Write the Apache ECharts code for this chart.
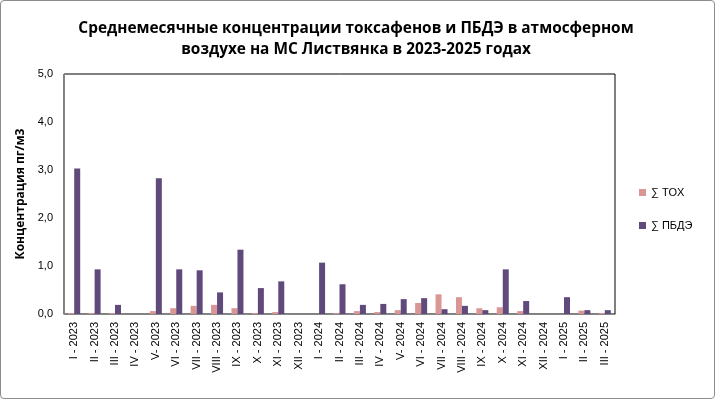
<!DOCTYPE html>
<html>
<head>
<meta charset="utf-8">
<script src="https://cdn.jsdelivr.net/npm/echarts@6/dist/echarts.min.js"></script>
<style>
  html, body { margin: 0; padding: 0; background: #fff; }
  #chart { width: 715px; height: 399px; box-sizing: border-box; border: 1px solid #8c8c8c; border-radius: 4px; }
</style>
</head>
<body>
<div id="chart"></div>
<script>
// категории (месяцы)
const categories = [
  'I - 2023', 'II - 2023', 'III - 2023', 'IV - 2023', 'V- 2023', 'VI - 2023',
  'VII - 2023', 'VIII - 2023', 'IX - 2023', 'X - 2023', 'XI - 2023', 'XII - 2023',
  'I - 2024', 'II - 2024', 'III - 2024', 'IV - 2024', 'V- 2024', 'VI - 2024',
  'VII - 2024', 'VIII - 2024', 'IX - 2024', 'X - 2024', 'XI - 2024', 'XII - 2024',
  'I - 2025', 'II - 2025', 'III - 2025'
]

// ∑ TOX
const toxValues = [
  0.02, 0.02, 0.02, 0, 0.06, 0.12, 0.17, 0.19, 0.12, 0.02, 0.04, 0,
  0, 0.02, 0.06, 0.04, 0.08, 0.23, 0.41, 0.35, 0.12, 0.14, 0.06, 0,
  0, 0.07, 0.02
]

// ∑ ПБДЭ
const pbdeValues = [
  3.03, 0.93, 0.19, 0, 2.83, 0.93, 0.91, 0.45, 1.34, 0.54, 0.68, 0,
  1.07, 0.62, 0.19, 0.21, 0.31, 0.33, 0.10, 0.17, 0.08, 0.93, 0.27, 0,
  0.35, 0.08, 0.08
]

const chart = echarts.init(document.getElementById('chart'))

const option = {
  animation: false,
  title: {
    text: 'Среднемесячные концентрации токсафенов и ПБДЭ в атмосферном\nвоздухе на МС Листвянка в 2023-2025 годах',
    left: 350,
    textAlign: 'center',
    top: 12,
    textStyle: {
      fontFamily: 'Open Sans',
      fontSize: 15.4,
      fontWeight: 'bold',
      color: '#000',
      lineHeight: 21
    }
  },
  legend: {
    orient: 'vertical',
    left: 633,
    top: 181,
    itemGap: 22,
    itemWidth: 7,
    itemHeight: 7,
    icon: 'rect',
    textStyle: { fontFamily: 'Arial', fontSize: 11, color: '#000' },
    data: ['∑ TOX', '∑ ПБДЭ']
  },
  grid: {
    left: 63,
    right: 99,
    top: 73,
    bottom: 84,
    show: true,
    borderColor: '#000',
    borderWidth: 1
  },
  xAxis: {
    type: 'category',
    data: categories,
    axisLine: { lineStyle: { color: '#868686' } },
    axisTick: { show: false },
    axisLabel: {
      rotate: 90,
      interval: 0,
      fontFamily: 'Arial',
      fontSize: 11,
      color: '#000',
      margin: 8
    }
  },
  yAxis: {
    type: 'value',
    min: 0,
    max: 5,
    interval: 1,
    name: 'Концентрация пг/м3',
    nameLocation: 'middle',
    nameGap: 35,
    nameTextStyle: { fontFamily: 'Open Sans', fontSize: 12, fontWeight: 'bold', color: '#000' },
    axisLine: { show: true, lineStyle: { color: '#868686' } },
    axisTick: { show: false },
    splitLine: { show: false },
    axisLabel: {
      fontFamily: 'Arial',
      fontSize: 11,
      color: '#000',
      margin: 11,
      formatter: v => v.toFixed(1).replace('.', ',')
    }
  },
  series: [
    {
      name: '∑ TOX',
      type: 'bar',
      data: toxValues,
      barWidth: 6,
      barGap: '0%',
      itemStyle: { color: '#d99694' }
    },
    {
      name: '∑ ПБДЭ',
      type: 'bar',
      data: pbdeValues,
      barWidth: 6,
      itemStyle: { color: '#604a7b' }
    }
  ]
}

chart.setOption(option)
</script>
</body>
</html>
